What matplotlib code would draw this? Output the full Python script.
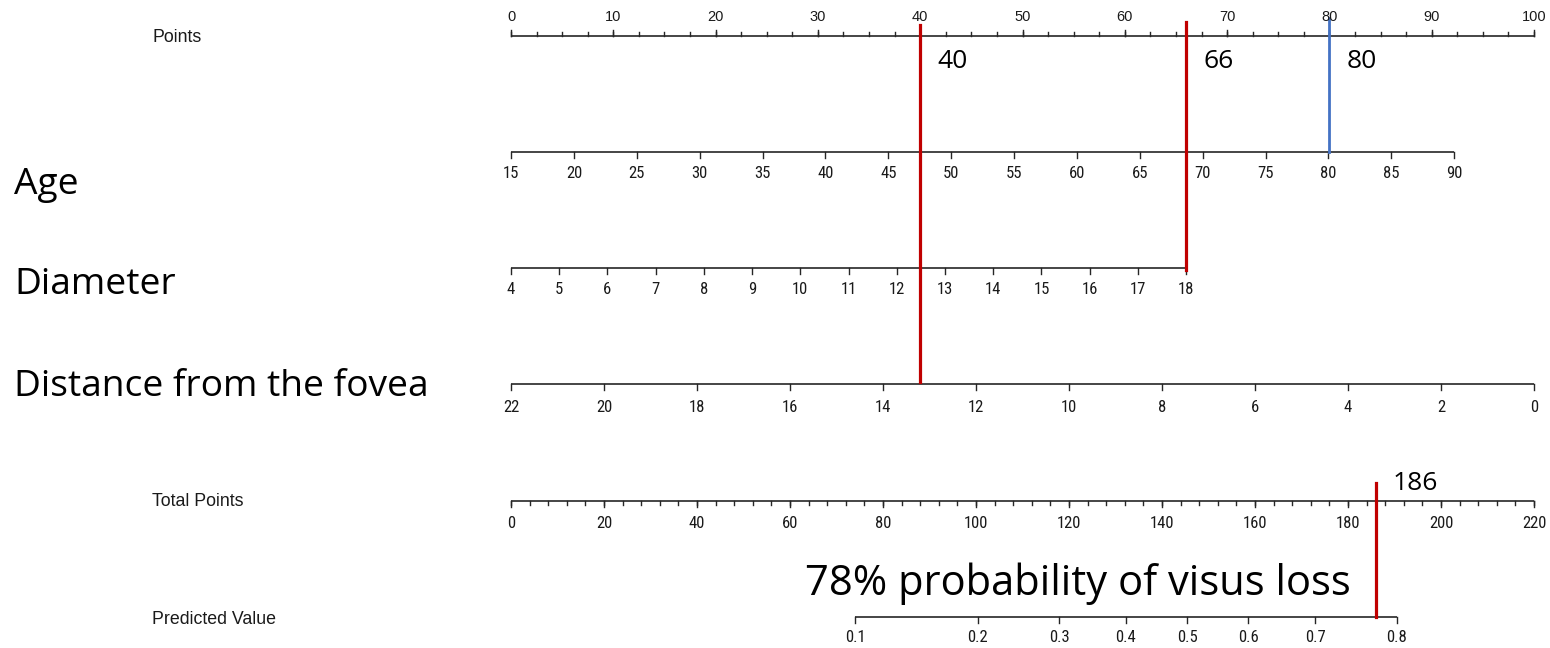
import numpy as np
import matplotlib
matplotlib.use("Agg")
import matplotlib.pyplot as plt
from matplotlib import font_manager as fm

# ---- nomogram scales (each variable maps linearly onto the 0-100 point scale) ----
points_ticks = np.arange(0, 101, 10)
points_minor = np.arange(0, 100.1, 2.5)

age_ticks = np.arange(15, 91, 5)
age_range = (15, 90)
age_points = (0, 92.2)

diameter_ticks = np.arange(4, 19, 1)
diameter_range = (4, 18)
diameter_points = (0, 66)

distance_ticks = np.arange(22, -1, -2)
distance_range = (22, 0)
distance_points = (0, 100)

total_ticks = np.arange(0, 221, 20)
total_minor = np.arange(0, 221, 4)
total_max = 220

pred_ticks = [0.1, 0.2, 0.3, 0.4, 0.5, 0.6, 0.7, 0.8]
pred_intercept = 145.4   # total points where the predicted value is 0.5
pred_slope = 32.5        # total points per logit unit

# worked example
red_points = [40, 66]
blue_points = 80
total_score = 186
prob_text = "78% probability of visus loss"

RED = "#C00000"
BLUE = "#4472C4"
AXC = "#262626"
TXT = "#1a1a1a"
BIG = "Open Sans"
SMALL = ["Liberation Sans", "DejaVu Sans"]


def narrow_font():
    """Pick a condensed sans face if one is installed."""
    fonts = fm.fontManager.ttflist
    names = {f.name for f in fonts}
    for n in ["Liberation Sans Narrow", "Arial Narrow", "Roboto Condensed",
              "Open Sans Condensed", "DejaVu Sans Condensed"]:
        if n in names:
            return dict(family=n), True
    for f in fonts:
        if f.name == "DejaVu Sans" and str(f.stretch) in ("condensed", "semi-condensed", "75", "87.5"):
            return dict(family="DejaVu Sans", stretch="condensed"), True
    return dict(family="Liberation Sans"), False


NARROW, HAVE_NARROW = narrow_font()
NS = 12 if HAVE_NARROW else 10


def to_points(v, vrange, prange):
    v = np.asarray(v, dtype=float)
    return prange[0] + (v - vrange[0]) / (vrange[1] - vrange[0]) * (prange[1] - prange[0])


def total_to_x(tp):
    return np.asarray(tp, dtype=float) * 100.0 / total_max


def prob_to_x(p):
    p = np.asarray(p, dtype=float)
    return total_to_x(pred_intercept + pred_slope * np.log(p / (1 - p)))


fig = plt.figure(figsize=(15.5, 6.48), dpi=100)
ax = fig.add_axes([0, 0, 1, 1])
px = 10.23  # pixels per point unit
ax.set_xlim(-511 / px, (1550 - 511) / px)
ax.set_ylim(648, 0)
ax.axis("off")


def scale(y, xs, labels, tick_len, label_dy, fs, font, up=False,
          minor=None, minor_len=None):
    xs = np.asarray(xs, dtype=float)
    ax.plot([xs.min(), xs.max()], [y, y], color=AXC, lw=1.2,
            solid_capstyle="butt")
    sgn = -1 if up else 1
    if minor is not None:
        for m in minor:
            ax.plot([m, m], [y, y + sgn * minor_len], color=AXC, lw=1.0)
    for x, lab in zip(xs, labels):
        ax.plot([x, x], [y, y + sgn * tick_len], color=AXC, lw=1.0)
        ax.text(x, y + sgn * label_dy, lab, ha="center", va="center",
                fontsize=fs, color=TXT, **font)


# Points
scale(36, points_ticks, [str(v) for v in points_ticks], 6, 19, 10.5,
      dict(family=SMALL), up=True, minor=points_minor, minor_len=4.5)
# Age
scale(152, to_points(age_ticks, age_range, age_points),
      [str(v) for v in age_ticks], 6, 21, NS, NARROW)
# Diameter
scale(268, to_points(diameter_ticks, diameter_range, diameter_points),
      [str(v) for v in diameter_ticks], 6, 22, NS, NARROW)
# Distance from the fovea
scale(384, to_points(distance_ticks, distance_range, distance_points),
      [str(v) for v in distance_ticks], 6, 23, NS, NARROW)
# Total points
scale(501, total_to_x(total_ticks), [str(v) for v in total_ticks], 6, 22,
      NS, NARROW, minor=total_to_x(total_minor), minor_len=3.5)
# Predicted value
scale(617, prob_to_x(pred_ticks), [f"{v:g}" for v in pred_ticks], 6, 21,
      NS, NARROW)

# row labels
for y, lab in [(38, "Points"), (502, "Total Points"), (619, "Predicted Value")]:
    ax.text(-359 / px, y, lab, ha="left", va="center", fontsize=12.8,
            family=SMALL, color=TXT)
for y, lab in [(185, "Age"), (285, "Diameter"), (387, "Distance from the fovea")]:
    ax.text(-497 / px, y, lab, ha="left", va="center", fontsize=26.7,
            family=BIG, color="black")

# worked example lines
ax.plot([red_points[0]] * 2, [25, 382], color=RED, lw=2.3)
ax.plot([red_points[1]] * 2, [22, 270], color=RED, lw=2.3)
ax.plot([blue_points] * 2, [18, 152], color=BLUE, lw=2.0)
ax.plot([total_to_x(total_score)] * 2, [483, 617], color=RED, lw=2.3)

for v in red_points + [blue_points]:
    ax.text(v + 17 / px, 61, str(v), ha="left", va="center", fontsize=19,
            family=BIG, color="black")
ax.text(total_to_x(total_score) + 17 / px, 483, str(total_score), ha="left",
        va="center", fontsize=19, family=BIG, color="black")
ax.text(1351 / px - 511 / px, 584, prob_text, ha="right", va="center",
        fontsize=30, family=BIG, color="black")

fig.savefig("out.png", dpi=100, facecolor="white")
